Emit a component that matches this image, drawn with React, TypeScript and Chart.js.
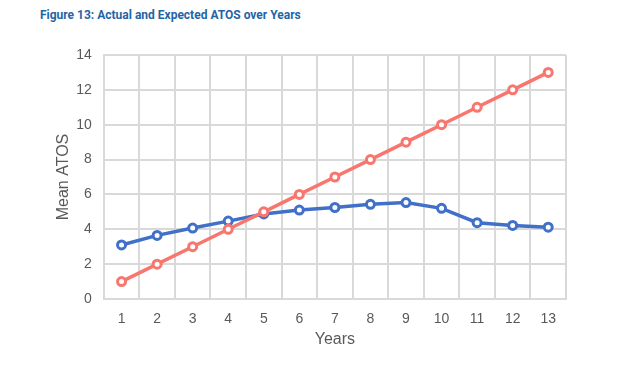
import React, { useEffect, useRef } from "react";
import { Chart, registerables } from "chart.js";

Chart.register(...registerables);

const years = ["1", "2", "3", "4", "5", "6", "7", "8", "9", "10", "11", "12", "13"];
const actualAtos = [3.1, 3.65, 4.07, 4.47, 4.88, 5.1, 5.25, 5.43, 5.53, 5.2, 4.38, 4.22, 4.12];
const expectedAtos = [1, 2, 3, 4, 5, 6, 7, 8, 9, 10, 11, 12, 13];
const titleText = "Figure 13: Actual and Expected ATOS over Years";

export default function App() {
  const ref = useRef<HTMLCanvasElement | null>(null);
  useEffect(() => {
    if (!ref.current) return;
    const chart = new Chart(ref.current, {
      type: "line",
      data: {
        labels: years,
        datasets: [
          {
            label: "Expected",
            data: expectedAtos,
            borderColor: "#f8766d",
            backgroundColor: "#ffffff",
            pointBorderColor: "#f8766d",
            pointBackgroundColor: "#ffffff",
            borderWidth: 3.5,
            pointRadius: 4,
            pointBorderWidth: 3,
            tension: 0,
          },
          {
            label: "Actual",
            data: actualAtos,
            borderColor: "#4070c8",
            backgroundColor: "#ffffff",
            pointBorderColor: "#4070c8",
            pointBackgroundColor: "#ffffff",
            borderWidth: 3.5,
            pointRadius: 4,
            pointBorderWidth: 3,
            tension: 0,
          },
        ],
      },
      options: {
        responsive: false,
        animation: false,
        layout: { padding: { left: 50, right: 74, top: 55, bottom: 28 } },
        plugins: { legend: { display: false }, tooltip: { enabled: false }, title: { display: false } },
        scales: {
          x: {
            offset: true,
            grid: { offset: true, color: "#d9d9d9", lineWidth: 2, drawTicks: false },
            border: { color: "#d9d9d9", width: 2 },
            ticks: { color: "#595959", font: { family: "Liberation Sans", size: 14 }, padding: 12 },
            title: { display: true, text: "Years", color: "#595959", font: { family: "Liberation Sans", size: 16 }, padding: { top: -10, bottom: 6 } },
          },
          y: {
            min: 0,
            max: 14,
            grid: { color: "#d9d9d9", lineWidth: 2, drawTicks: false },
            border: { color: "#d9d9d9", width: 2 },
            ticks: { stepSize: 2, color: "#595959", font: { family: "Liberation Sans", size: 14 }, padding: 12 },
            title: { display: true, text: "Mean ATOS", color: "#595959", font: { family: "Liberation Sans", size: 16 }, padding: { top: 4, bottom: -9 } },
          },
        },
      },
    });
    return () => chart.destroy();
  }, []);
  return (
    <div style={{ position: "fixed", left: 0, top: 0, width: 640, height: 383, background: "#fff" }}>
      <div style={{ position: "absolute", left: 40, top: 8, fontFamily: "Roboto", fontWeight: 700, fontSize: 12, color: "#1f65a6" }}>
        {titleText}
      </div>
      <canvas ref={ref} width={640} height={383} style={{ position: "absolute", left: 0, top: 0 }} />
    </div>
  );
}
